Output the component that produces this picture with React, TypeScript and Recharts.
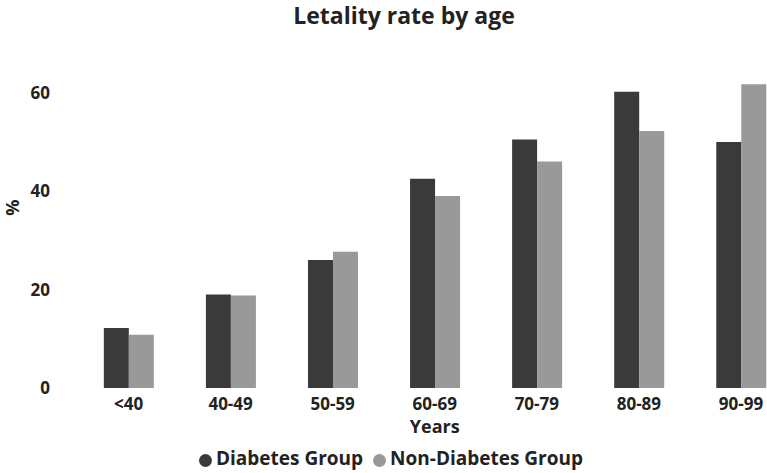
import React from 'react';
import { Bar, BarChart, Legend, XAxis, YAxis } from 'recharts';

const ageGroups = ['<40', '40-49', '50-59', '60-69', '70-79', '80-89', '90-99'];
const diabetes = [12.2, 19.0, 26.0, 42.5, 50.5, 60.2, 50.0];
const nonDiabetes = [10.8, 18.8, 27.7, 39.0, 46.0, 52.2, 61.7];
const yTicks = [0, 20, 40, 60];

const font = '"Open Sans", "DejaVu Sans", sans-serif';
const ink = '#222222';

const data = ageGroups.map((age, i) => ({
  age,
  diabetes: diabetes[i],
  nonDiabetes: nonDiabetes[i],
}));

export default function App() {
  return (
    <div
      style={{
        position: 'absolute',
        left: 0,
        top: 0,
        width: 767,
        height: 473,
        overflow: 'hidden',
        background: '#fff',
        fontFamily: font,
      }}
    >
      <div
        style={{
          position: 'absolute',
          left: 41,
          width: 726,
          top: 2,
          textAlign: 'center',
          fontSize: 23,
          fontWeight: 700,
          color: ink,
          lineHeight: '26px',
        }}
      >
        Letality rate by age
      </div>
      <BarChart
        width={792}
        height={473}
        data={data}
        margin={{ top: 43.5, right: 0, left: 0, bottom: 2 }}
        barCategoryGap="25.8%"
        barGap={0}
      >
        <XAxis
          dataKey="age"
          axisLine={false}
          tickLine={false}
          tickSize={0}
          tickMargin={10}
          height={57}
          tick={{ fontSize: 17, fontWeight: 700, fill: ink, fontFamily: font }}
          label={{
            value: 'Years',
            position: 'insideBottom',
            offset: 12,
            style: { fontSize: 18, fontWeight: 700, fill: ink, fontFamily: font },
          }}
        />
        <YAxis
          domain={[0, 70]}
          ticks={yTicks}
          axisLine={false}
          tickLine={false}
          tickSize={0}
          tickMargin={27.5}
          width={77.5}
          tick={{ fontSize: 17, fontWeight: 700, fill: ink, fontFamily: font }}
          label={{
            value: '%',
            angle: -90,
            position: 'insideLeft',
            offset: 13,
            style: { fontSize: 18, fontWeight: 700, fill: ink, fontFamily: font },
          }}
        />
        <Legend
          verticalAlign="bottom"
          align="center"
          iconType="circle"
          iconSize={13}
          formatter={(value) => (
            <span style={{ color: ink, fontSize: 19, fontWeight: 700, fontFamily: font }}>{value}</span>
          )}
        />
        <Bar dataKey="diabetes" name="Diabetes Group" fill="#3a3a3a" isAnimationActive={false} />
        <Bar dataKey="nonDiabetes" name="Non-Diabetes Group" fill="#999999" isAnimationActive={false} />
      </BarChart>
    </div>
  );
}
